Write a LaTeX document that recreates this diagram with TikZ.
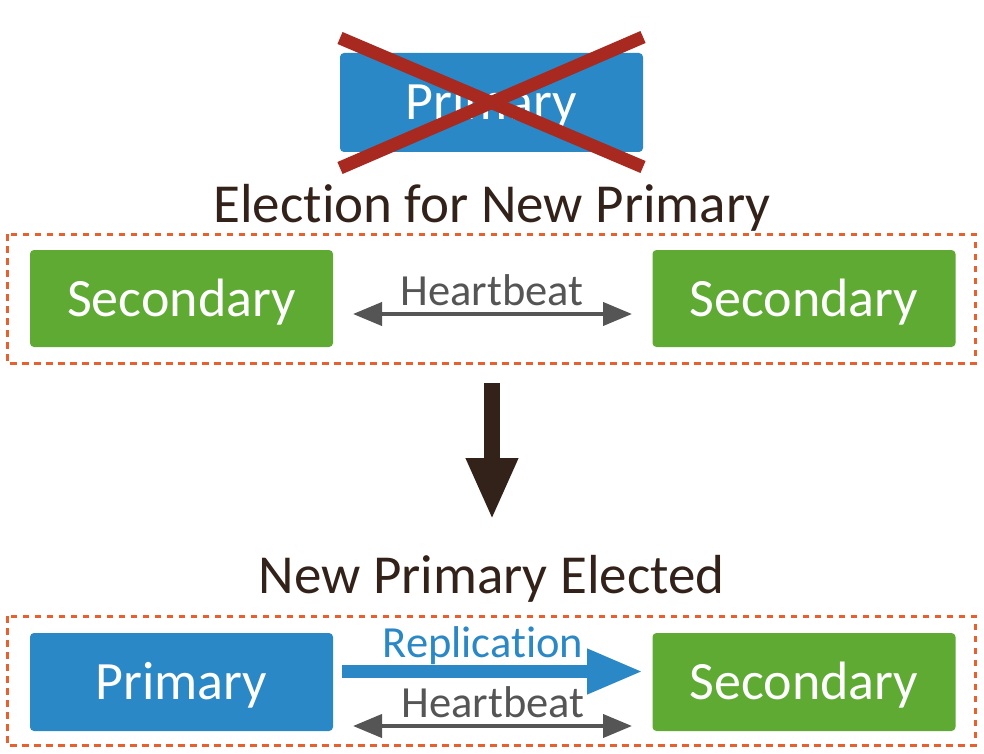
\documentclass[tikz,border=0pt]{standalone}
\usepackage{fontspec}
\setmainfont{Carlito}[Ligatures={NoCommon}]
\usetikzlibrary{arrows.meta}
\definecolor{pblue}{HTML}{2A88C6}
\definecolor{sgreen}{HTML}{5EAA33}
\definecolor{xred}{HTML}{A8291F}
\definecolor{dorange}{HTML}{E8602E}
\definecolor{tbrown}{HTML}{33221A}
\definecolor{agray}{HTML}{555555}
\tikzset{
  srvbox/.style={rounded corners=4pt, minimum width=303pt, minimum height=97pt,
    inner sep=0pt, text=white, font=\fontsize{54}{60}\selectfont,
    text height=35pt, text depth=0pt},
  primbox/.style={srvbox, fill=pblue},
  secbox/.style={srvbox, fill=sgreen},
  grpbox/.style={draw=dorange, line width=3pt, dash pattern=on 6.5pt off 5.5pt},
  title/.style={text=tbrown, font=\fontsize{55}{60}\selectfont, anchor=base, inner sep=0pt},
  smalllbl/.style={font=\fontsize{44.5}{50}\selectfont, anchor=base, inner sep=0pt},
  hbarrow/.style={draw=agray, line width=4pt, {Triangle[length=29pt,width=23pt]}-{Triangle[length=29pt,width=23pt]}},
  crossline/.style={draw=xred, line width=13pt}
}
\begin{document}
\begin{tikzpicture}[x=1pt,y=-1pt]
\useasboundingbox[fill=white] (0,0) rectangle (984,754);
% top: failed primary
\node[primbox, minimum height=99pt] (oldp) at (491.5,102.5) {Primary};
\coordinate (x1a) at (340,38); \coordinate (x1b) at (643,167);
\coordinate (x2a) at (643,37); \coordinate (x2b) at (340,168);
\draw[crossline] (x1a) -- (x1b);
\draw[crossline] (x2a) -- (x2b);
% election
\node[title] (t1) at (492,222) {Election for New Primary};
\draw[grpbox] (7,234) rectangle (975,363);
\node[secbox] (s1) at (181.5,298.5) {Secondary};
\node[secbox] (s2) at (804,298.5) {Secondary};
\coordinate (h1l) at (353,314); \coordinate (h1r) at (632,314);
\draw[hbarrow] (h1l) -- (h1r);
\node[smalllbl, text=agray] (hb1) at (492,305) {Heartbeat};
% big arrow
\coordinate (da) at (492,383); \coordinate (db) at (492,520);
\draw[draw=tbrown, line width=16pt, -{Triangle[length=62pt,width=48pt]}] (da) -- (db);
% new primary elected
\node[title] (t2) at (491.5,593) {New Primary Elected};
\draw[grpbox] (7,616) rectangle (975,745);
\node[primbox, minimum height=98pt] (p) at (181.5,682) {Primary};
\node[secbox, minimum height=98pt] (s3) at (804,682) {Secondary};
\coordinate (rl) at (342,671.5); \coordinate (rr) at (643,671.5);
\draw[draw=pblue, line width=13pt, -{Triangle[length=56pt,width=42pt]}] (rl) -- (rr);
\node[smalllbl, text=pblue] (rep) at (483,657) {Replication};
\coordinate (h2l) at (353,726); \coordinate (h2r) at (632,726);
\draw[hbarrow] (h2l) -- (h2r);
\node[smalllbl, text=agray] (hb2) at (493,717) {Heartbeat};
\end{tikzpicture}
\end{document}
